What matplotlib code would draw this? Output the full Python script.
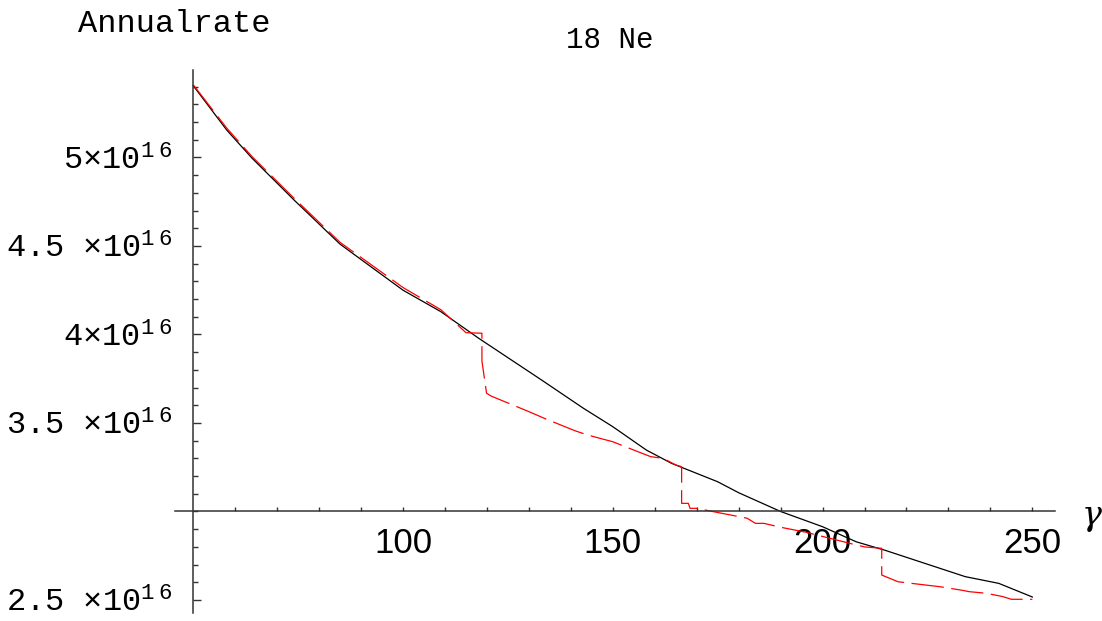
import matplotlib
matplotlib.use("Agg")
import matplotlib.pyplot as plt
from matplotlib.ticker import FixedLocator, NullFormatter

# gamma values and annual rate (units of 1e16)
gamma_full = [50, 58, 64, 74, 85, 100, 109, 118, 133, 143, 150, 158, 164, 175,
              180, 190, 200, 208, 215, 234, 242, 250]
rate_full = [5.405, 5.154, 4.996, 4.76, 4.51, 4.25, 4.129, 3.979, 3.743, 3.583,
             3.479, 3.347, 3.272, 3.168, 3.106, 3.0, 2.914, 2.829, 2.78, 2.632,
             2.594, 2.517]

gamma_step = [50, 58, 64, 74, 85, 100, 109, 115, 118.8, 118.8, 119.9, 121, 130,
              134, 141, 144, 150, 155, 159, 162, 165, 166.4, 166.4, 168, 168.4,
              170, 174, 182, 184, 186, 190, 196, 205, 208, 210, 214.1, 214.1,
              218, 228, 233, 235, 239, 243, 245, 250]
rate_step = [5.41, 5.165, 5.005, 4.77, 4.52, 4.265, 4.14, 4.01, 4.007, 3.85,
             3.668, 3.652, 3.564, 3.523, 3.456, 3.432, 3.394, 3.347, 3.31, 3.3,
             3.263, 3.253, 3.046, 3.046, 3.018, 3.018, 2.999, 2.962, 2.933,
             2.933, 2.911, 2.883, 2.829, 2.811, 2.80, 2.792, 2.641, 2.603,
             2.575, 2.556, 2.547, 2.538, 2.519, 2.504, 2.504]

ytick_vals = [2.5, 3.5, 4.0, 4.5, 5.0]
ytick_labels = [r"2.5 ×10$^{1\ 6}$", r"3.5 ×10$^{1\ 6}$", r"4×10$^{1\ 6}$",
                r"4.5 ×10$^{1\ 6}$", r"5×10$^{1\ 6}$"]
xtick_vals = [100, 150, 200, 250]

plt.rcParams['mathtext.fontset'] = 'custom'
plt.rcParams['mathtext.rm'] = 'Liberation Mono'
plt.rcParams['mathtext.it'] = 'Liberation Mono'
plt.rcParams['mathtext.default'] = 'rm'

W, H = 1102, 621
fig = plt.figure(figsize=(W / 100, H / 100), dpi=100)
# axes box in pixels: x 175..1055, y 70..613
ax = fig.add_axes([175 / W, 1 - 613 / H, 880 / W, 543 / H])
ax.set_xlim(45.64, 255.4)
ax.set_ylim(2.4266, 5.494)

ax.plot(gamma_full, rate_full, color='black', lw=0.9)
ax.plot(gamma_step, rate_step, color='#ff0000', lw=0.9, dashes=(26, 6))

for s in ['top', 'right']:
    ax.spines[s].set_visible(False)
ax.spines['left'].set_position(('data', 50))
ax.spines['bottom'].set_position(('data', 3.0))
for s in ['left', 'bottom']:
    ax.spines[s].set_color('#333333')
    ax.spines[s].set_linewidth(1.1)

ax.xaxis.set_major_locator(FixedLocator(xtick_vals))
ax.xaxis.set_minor_locator(FixedLocator(list(range(60, 251, 10))))
ax.set_xticklabels([str(v) for v in xtick_vals], fontfamily='Liberation Sans',
                   fontsize=25)
ax.tick_params(axis='x', which='both', direction='in', length=3, width=1,
               color='#333333', pad=11)

ax.yaxis.set_major_locator(FixedLocator(ytick_vals))
ax.yaxis.set_minor_locator(FixedLocator([round(2.5 + 0.1 * i, 2) for i in range(30)]))
ax.yaxis.set_minor_formatter(NullFormatter())
ax.set_yticklabels(ytick_labels, fontfamily='Liberation Mono', fontsize=23)
ax.tick_params(axis='y', which='major', direction='in', length=6, width=1,
               color='#333333', pad=15)
ax.tick_params(axis='y', which='minor', direction='in', length=3.5, width=1,
               color='#333333')
for lab in ax.get_yticklabels():
    lab.set_verticalalignment('center_baseline')

fig.text(78 / W, 1 - 24 / H, 'Annualrate', fontfamily='Liberation Mono',
         fontsize=23, ha='left', va='center')
fig.text(610 / W, 1 - 40 / H, '18 Ne', fontfamily='Liberation Mono',
         fontsize=21, ha='center', va='center')
fig.text(1092 / W, 1 - 516 / H, 'γ', fontfamily='DejaVu Serif',
         fontstyle='italic', fontsize=24, ha='center', va='center')

fig.savefig('out.png', dpi=100)
